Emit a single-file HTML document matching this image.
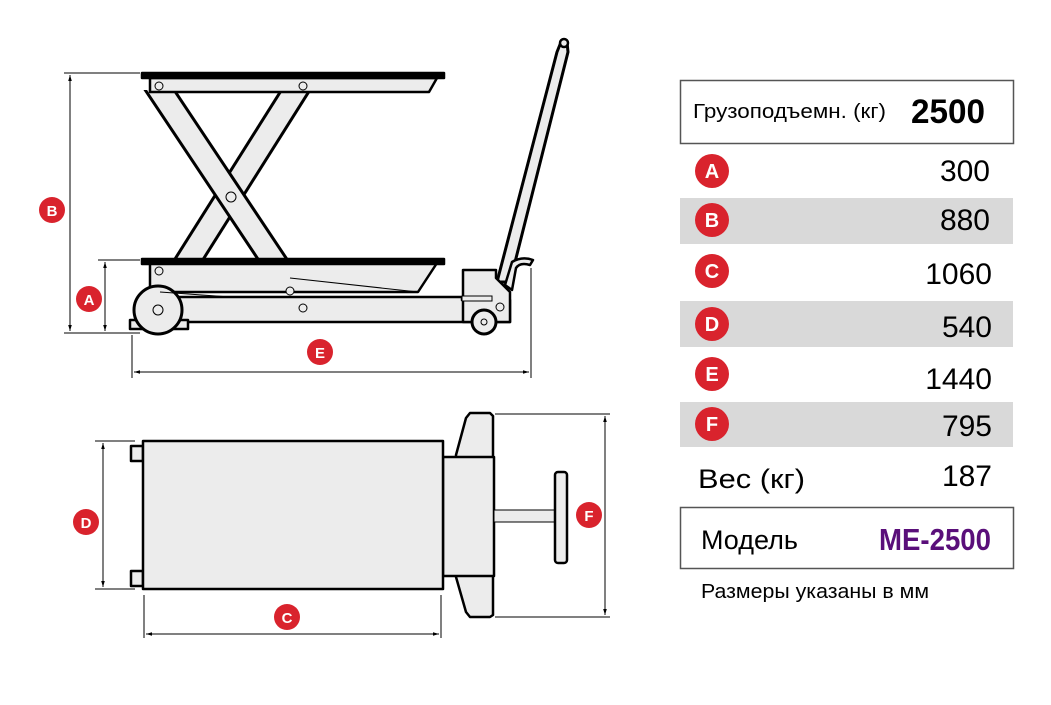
<!DOCTYPE html>
<html><head><meta charset="utf-8"><style>
html,body{margin:0;padding:0;background:#fff;}
svg{display:block;}
text{font-family:"Liberation Sans","DejaVu Sans",sans-serif;}
</style></head><body>
<svg width="1051" height="705" viewBox="0 0 1051 705" xmlns="http://www.w3.org/2000/svg">
<defs>
<marker id="ar" viewBox="0 0 10 10" refX="10" refY="5" markerWidth="10" markerHeight="6" orient="auto-start-reverse"><path d="M0,2 L10,5 L0,8z" fill="#000"/></marker>
<clipPath id="sc"><rect x="140" y="90" width="320" height="170"/></clipPath>
</defs>
<g stroke="#000" stroke-width="1" fill="none">
<line x1="64" y1="73" x2="140" y2="73"/>
<line x1="64" y1="333" x2="140" y2="333"/>
<line x1="98" y1="260" x2="140" y2="260"/>
<line x1="70" y1="75" x2="70" y2="331" marker-start="url(#ar)" marker-end="url(#ar)"/>
<line x1="105" y1="262" x2="105" y2="331" marker-start="url(#ar)" marker-end="url(#ar)"/>
<line x1="132" y1="335" x2="132" y2="378"/>
<line x1="531" y1="268" x2="531" y2="378"/>
<line x1="134" y1="372" x2="529" y2="372" marker-start="url(#ar)" marker-end="url(#ar)"/>
</g>
<g clip-path="url(#sc)">
<line x1="302" y1="80" x2="181" y2="272" stroke="#000" stroke-width="27"/>
<line x1="302" y1="80" x2="181" y2="272" stroke="#ececec" stroke-width="21"/>
<line x1="153" y1="80" x2="281" y2="272" stroke="#000" stroke-width="27"/>
<line x1="153" y1="80" x2="281" y2="272" stroke="#ececec" stroke-width="21"/>
</g>
<g stroke="#000" stroke-width="2.5" fill="#ececec" stroke-linejoin="round">
<path d="M497,282 L557,52 L561,42 L567,42 L568,52 L566,60 L510,282 Z" stroke-width="3"/>
<circle cx="564" cy="43" r="4"/>
<path d="M505,285 L512,262 Q522,256 533,260 L530,265 Q520,262 516,268 L512,290 Z"/>
<path d="M150,78 L437,78 L429,92 L150,92 Z"/>
<rect x="142" y="73" width="302" height="5" fill="#000"/>
<path d="M150,263 L437,263 L418,292 L150,292 Z"/>
<rect x="142" y="259" width="302" height="5" fill="#000"/>
<path d="M155,297 L462,297 L462,300 L510,300 L510,322 L155,322 Z"/>
<path d="M463,270 L496,270 L496,278 L510,292 L510,322 L463,322 Z"/>
<rect x="130" y="320" width="58" height="9"/>
<circle cx="158" cy="310" r="24" stroke-width="3"/>
<circle cx="484" cy="322" r="12" stroke-width="3"/>
</g>
<g stroke="#000" stroke-width="1" fill="#ececec">
<circle cx="159" cy="86" r="4"/><circle cx="303" cy="86" r="4"/>
<circle cx="231" cy="197" r="5"/><circle cx="159" cy="271" r="4"/>
<circle cx="290" cy="291" r="4"/><circle cx="303" cy="308" r="4"/>
<circle cx="158" cy="310" r="5"/><circle cx="500" cy="307" r="4"/>
<circle cx="484" cy="322" r="3"/>
<line x1="160" y1="292" x2="230" y2="297"/>
<line x1="290" y1="278" x2="418" y2="292"/>
<rect x="462" y="296" width="30" height="5"/>
</g>
<g stroke="#000" stroke-width="1" fill="none">
<line x1="95" y1="441" x2="135" y2="441"/>
<line x1="95" y1="589" x2="135" y2="589"/>
<line x1="103" y1="443" x2="103" y2="587" marker-start="url(#ar)" marker-end="url(#ar)"/>
<line x1="144" y1="595" x2="144" y2="638"/>
<line x1="441" y1="595" x2="441" y2="638"/>
<line x1="146" y1="634" x2="439" y2="634" marker-start="url(#ar)" marker-end="url(#ar)"/>
<line x1="495" y1="414" x2="610" y2="414"/>
<line x1="495" y1="617" x2="610" y2="617"/>
<line x1="605" y1="416" x2="605" y2="615" marker-start="url(#ar)" marker-end="url(#ar)"/>
</g>
<g stroke="#000" stroke-width="2.5" fill="#ececec" stroke-linejoin="round">
<path d="M131,446 L143,446 L143,461 L131,461 Z"/>
<path d="M131,571 L143,571 L143,586 L131,586 Z"/>
<path d="M470,413 L490,413 L493,416 L493,615 L490,617 L470,617 L466,612 L456,577 L456,455 L466,418 Z"/>
<rect x="443" y="457" width="51" height="119"/>
<rect x="143" y="441" width="300" height="148"/>
<rect x="494" y="510" width="63" height="12" stroke-width="1"/>
<rect x="555" y="472" width="12" height="91" rx="3"/>
</g>
<g font-weight="bold" font-size="15" fill="#fff" text-anchor="middle">
<circle cx="52" cy="210" r="13" fill="#d9232d"/><text x="52" y="216">B</text>
<circle cx="89" cy="299" r="13" fill="#d9232d"/><text x="89" y="305">A</text>
<circle cx="320" cy="352" r="13" fill="#d9232d"/><text x="320" y="358">E</text>
<circle cx="86" cy="522" r="13" fill="#d9232d"/><text x="86" y="528">D</text>
<circle cx="287" cy="617" r="13" fill="#d9232d"/><text x="287" y="623">C</text>
<circle cx="589" cy="515" r="13" fill="#d9232d"/><text x="589" y="521">F</text>
</g>
<rect x="680.5" y="80.5" width="333" height="63" fill="#fff" stroke="#555" stroke-width="1.5"/>
<text x="693" y="118" font-size="20" fill="#000" textLength="193" lengthAdjust="spacingAndGlyphs">Грузоподъемн. (кг)</text>
<text x="985" y="123" font-size="34" font-weight="bold" text-anchor="end" fill="#000" textLength="74" lengthAdjust="spacingAndGlyphs">2500</text>
<rect x="680" y="198" width="333" height="46" fill="#d9d9d9"/>
<rect x="680" y="301" width="333" height="46" fill="#d9d9d9"/>
<rect x="680" y="402" width="333" height="45" fill="#d9d9d9"/>
<g font-weight="bold" font-size="20" fill="#fff" text-anchor="middle">
<circle cx="712" cy="171" r="17" fill="#d9232d"/><text x="712" y="178">A</text>
<circle cx="712" cy="220" r="17" fill="#d9232d"/><text x="712" y="227">B</text>
<circle cx="712" cy="271" r="17" fill="#d9232d"/><text x="712" y="278">C</text>
<circle cx="712" cy="324" r="17" fill="#d9232d"/><text x="712" y="331">D</text>
<circle cx="712" cy="374" r="17" fill="#d9232d"/><text x="712" y="381">E</text>
<circle cx="712" cy="424" r="17" fill="#d9232d"/><text x="712" y="431">F</text>
</g>
<g font-size="30" fill="#000" text-anchor="end">
<text x="990" y="181">300</text>
<text x="990" y="230">880</text>
<text x="992" y="284">1060</text>
<text x="992" y="337">540</text>
<text x="992" y="389">1440</text>
<text x="992" y="436">795</text>
<text x="992" y="486">187</text>
</g>
<text x="698" y="488" font-size="27" fill="#000" textLength="107" lengthAdjust="spacingAndGlyphs">Вес (кг)</text>
<rect x="680.5" y="507.5" width="333" height="61" fill="#fff" stroke="#555" stroke-width="1.5"/>
<text x="701" y="549" font-size="27" fill="#000">Модель</text>
<text x="991" y="550" font-size="31" font-weight="bold" fill="#5a0f7a" text-anchor="end" textLength="112" lengthAdjust="spacingAndGlyphs">ME-2500</text>
<text x="701" y="598" font-size="20" fill="#000" textLength="228" lengthAdjust="spacingAndGlyphs">Размеры указаны в мм</text>
</svg>
</body></html>
